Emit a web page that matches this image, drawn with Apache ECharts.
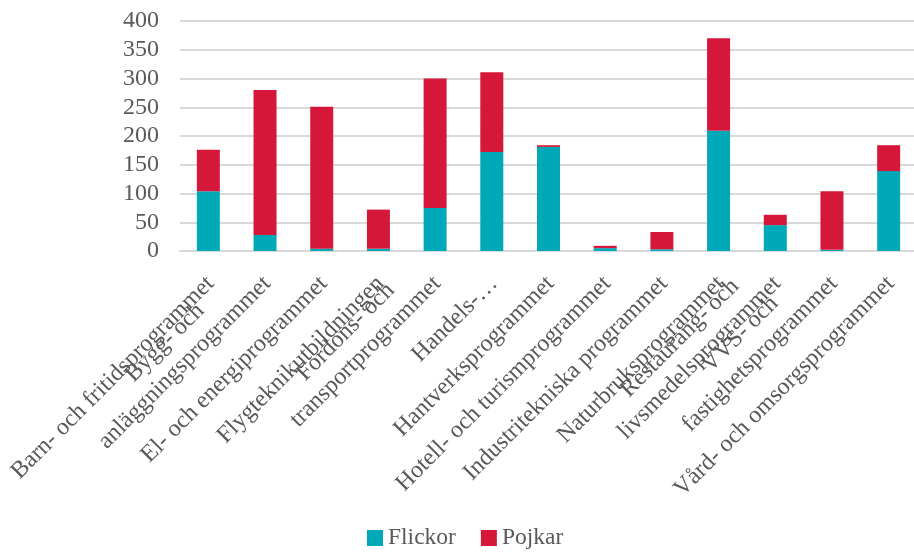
<!DOCTYPE html>
<html>
<head>
<meta charset="utf-8">
<script src="https://cdn.jsdelivr.net/npm/echarts@6/dist/echarts.min.js"></script>
<style>
html,body{margin:0;padding:0;background:#fff;}
#chart{width:914px;height:552px;}
</style>
</head>
<body>
<div id="chart"></div>
<script>
const categories = [
  "Barn- och fritidsprogrammet",
  "Bygg- och\nanläggningsprogrammet",
  "El- och energiprogrammet",
  "Flygteknikutbildningen",
  "Fordons- och\ntransportprogrammet",
  "Handels-…",
  "Hantverksprogrammet",
  "Hotell- och turismprogrammet",
  "Industritekniska programmet",
  "Naturbruksprogrammet",
  "Restaurang- och\nlivsmedelsprogrammet",
  "VVS- och\nfastighetsprogrammet",
  "Vård- och omsorgsprogrammet"
];
const flickor = [104, 28, 4, 4, 75, 172, 181, 5, 3, 209, 45, 2, 139];
const pojkar  = [72, 252, 247, 68, 225, 139, 3, 4, 30, 161, 18, 102, 45];
const yTicks = { min: 0, max: 400, interval: 50 };

const FONT = "'Liberation Serif', 'Times New Roman', serif";
const TXT = '#595959';
const GRID = '#d9d9d9';

const chart = echarts.init(document.getElementById('chart'));
chart.setOption({
  animation: false,
  backgroundColor: '#ffffff',
  grid: [
    { left: 180, top: 21, width: 737, height: 230, containLabel: false, outerBoundsMode: 'none' },
    { left: 192, top: 21, width: 737, height: 230, containLabel: false, outerBoundsMode: 'none' }
  ],
  legend: {
    data: ['Flickor', 'Pojkar'],
    left: 362,
    top: 521,
    icon: 'rect',
    itemWidth: 16,
    itemHeight: 16,
    itemGap: 25,
    textStyle: { fontFamily: FONT, fontSize: 23.5, color: TXT }
  },
  xAxis: [
    {
      type: 'category',
      gridIndex: 0,
      data: categories,
      boundaryGap: true,
      axisLine: { show: true, lineStyle: { color: GRID, width: 2 } },
      axisTick: { show: false },
      axisLabel: { show: false },
      splitLine: { show: false }
    },
    {
      type: 'category',
      gridIndex: 1,
      data: categories,
      boundaryGap: true,
      axisLine: { show: false },
      axisTick: { show: false },
      splitLine: { show: false },
      axisLabel: {
        show: true,
        interval: 0,
        rotate: 45,
        margin: 39,
        verticalAlign: 'bottom',
        hideOverlap: false,
        fontFamily: FONT,
        fontSize: 24,
        color: TXT,
        lineHeight: 28,
        formatter: function (v) {
          return v.split('\n').map(function (s) { return '{c|' + s + '}'; }).join('\n');
        },
        rich: {
          c: { align: 'center', fontFamily: FONT, fontSize: 24, color: TXT, lineHeight: 28 }
        }
      }
    }
  ],
  yAxis: [
    {
      type: 'value',
      gridIndex: 0,
      min: yTicks.min,
      max: yTicks.max,
      interval: yTicks.interval,
      axisLine: { show: false },
      axisTick: { show: false },
      axisLabel: { margin: 21, fontFamily: FONT, fontSize: 24, color: TXT },
      splitLine: { show: true, lineStyle: { color: GRID, width: 2 } }
    },
    {
      type: 'value',
      gridIndex: 1,
      min: yTicks.min,
      max: yTicks.max,
      show: false,
      splitLine: { show: false }
    }
  ],
  series: [
    {
      name: 'Flickor',
      type: 'bar',
      stack: 'total',
      xAxisIndex: 0,
      yAxisIndex: 0,
      barWidth: 23,
      itemStyle: { color: '#00A9B8' },
      data: flickor
    },
    {
      name: 'Pojkar',
      type: 'bar',
      stack: 'total',
      xAxisIndex: 0,
      yAxisIndex: 0,
      barWidth: 23,
      itemStyle: { color: '#D51839' },
      data: pojkar
    }
  ]
});
</script>
</body>
</html>
